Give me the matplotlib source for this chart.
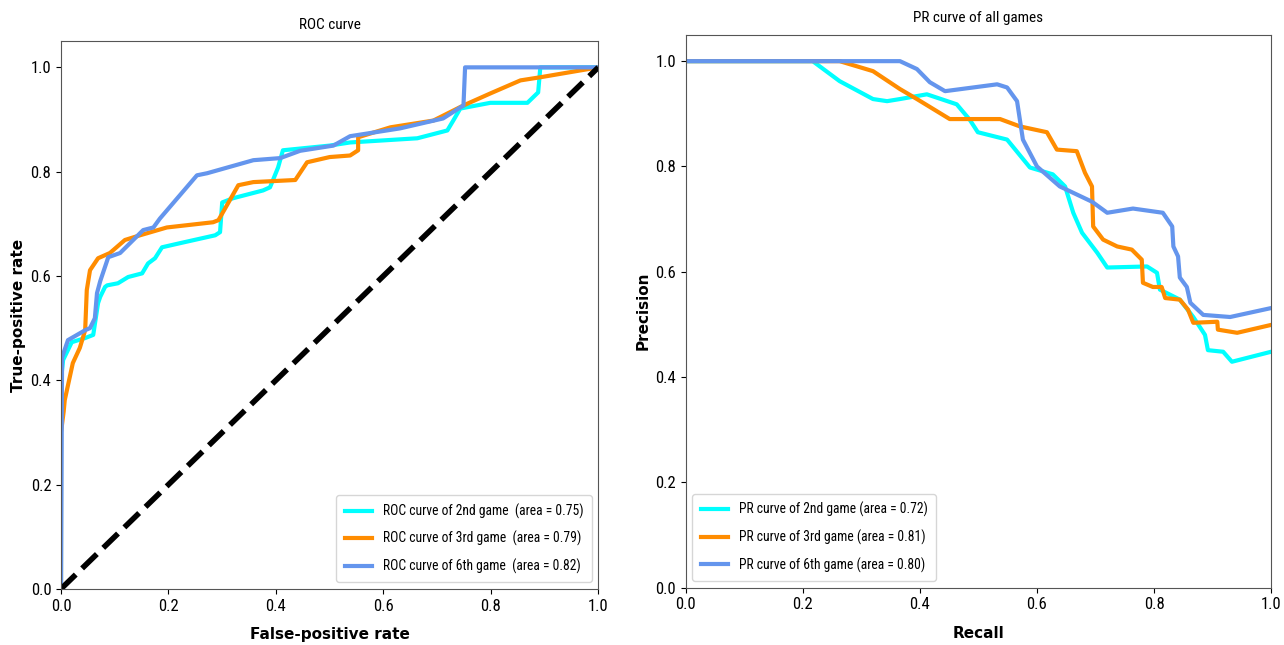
import matplotlib
matplotlib.use("Agg")
import matplotlib.pyplot as plt
from matplotlib import font_manager

names = {f.name for f in font_manager.fontManager.ttflist}
narrow = [n for n in ['Roboto Condensed', 'DejaVu Sans Condensed', 'Liberation Sans Narrow'] if n in names]
plt.rcParams['font.family'] = narrow + ['DejaVu Sans']

# ROC curves (fpr, tpr)
roc2_fpr = [0, 0, 0.002, 0.004, 0.02, 0.045, 0.06, 0.069, 0.073, 0.082, 0.086, 0.106, 0.125, 0.151, 0.162, 0.175,
            0.188, 0.222, 0.287, 0.296, 0.300, 0.320, 0.376, 0.389, 0.404, 0.413, 0.50, 0.538, 0.663, 0.719, 0.730,
            0.743, 0.799, 0.868, 0.888, 0.892, 1.0]
roc2_tpr = [0, 0.40, 0.42, 0.439, 0.473, 0.481, 0.487, 0.548, 0.56, 0.579, 0.582, 0.586, 0.598, 0.605, 0.624, 0.634,
            0.655, 0.663, 0.678, 0.684, 0.741, 0.749, 0.764, 0.770, 0.808, 0.841, 0.85, 0.856, 0.864, 0.879, 0.898,
            0.921, 0.932, 0.932, 0.952, 1.0, 1.0]

roc3_fpr = [0, 0, 0.005, 0.007, 0.022, 0.035, 0.045, 0.048, 0.054, 0.069, 0.091, 0.119, 0.147, 0.197, 0.283, 0.293,
            0.330, 0.358, 0.436, 0.458, 0.50, 0.538, 0.553, 0.553, 0.613, 0.693, 0.749, 0.799, 0.855, 0.892, 1.0]
roc3_tpr = [0, 0.30, 0.34, 0.362, 0.433, 0.462, 0.496, 0.573, 0.611, 0.634, 0.644, 0.669, 0.678, 0.693, 0.703, 0.707,
            0.774, 0.780, 0.784, 0.818, 0.828, 0.831, 0.841, 0.866, 0.885, 0.898, 0.927, 0.950, 0.975, 0.981, 1.0]

roc6_fpr = [0, 0.002, 0.013, 0.045, 0.054, 0.063, 0.067, 0.073, 0.088, 0.11, 0.153, 0.172, 0.184, 0.253, 0.272, 0.358,
            0.408, 0.445, 0.507, 0.538, 0.631, 0.711, 0.749, 0.752, 1.0]
roc6_tpr = [0, 0.444, 0.477, 0.496, 0.50, 0.519, 0.567, 0.59, 0.636, 0.644, 0.688, 0.693, 0.71, 0.793, 0.797, 0.822,
            0.826, 0.84, 0.85, 0.868, 0.883, 0.902, 0.927, 1.0, 1.0]

roc_labels = ["ROC curve of 2nd game  (area = 0.75)", "ROC curve of 3rd game  (area = 0.79)",
              "ROC curve of 6th game  (area = 0.82)"]

# PR curves (recall, precision)
pr2_rec = [0, 0.217, 0.263, 0.32, 0.344, 0.366, 0.412, 0.463, 0.485, 0.499, 0.549, 0.588, 0.627, 0.648, 0.662, 0.677,
           0.703, 0.72, 0.788, 0.805, 0.81, 0.844, 0.867, 0.887, 0.892, 0.918, 0.933, 1.0]
pr2_prec = [1.0, 1.0, 0.962, 0.928, 0.924, 0.928, 0.937, 0.918, 0.889, 0.865, 0.851, 0.798, 0.785, 0.762, 0.712, 0.674,
            0.636, 0.608, 0.61, 0.598, 0.566, 0.547, 0.514, 0.48, 0.451, 0.448, 0.429, 0.448]

pr3_rec = [0, 0.263, 0.32, 0.366, 0.395, 0.451, 0.537, 0.571, 0.617, 0.634, 0.668, 0.682, 0.694, 0.696, 0.713, 0.737,
           0.762, 0.779, 0.781, 0.798, 0.813, 0.819, 0.844, 0.858, 0.867, 0.908, 0.909, 0.942, 1.0]
pr3_prec = [1.0, 1.0, 0.981, 0.947, 0.928, 0.89, 0.89, 0.876, 0.865, 0.832, 0.829, 0.788, 0.762, 0.686, 0.661, 0.648,
            0.642, 0.623, 0.579, 0.571, 0.571, 0.55, 0.547, 0.528, 0.503, 0.505, 0.49, 0.484, 0.499]

pr6_rec = [0, 0.366, 0.395, 0.417, 0.443, 0.532, 0.549, 0.566, 0.576, 0.60, 0.639, 0.694, 0.72, 0.764, 0.815, 0.831,
           0.833, 0.841, 0.844, 0.856, 0.862, 0.884, 0.93, 1.0]
pr6_prec = [1.0, 1.0, 0.985, 0.96, 0.943, 0.956, 0.95, 0.924, 0.851, 0.80, 0.762, 0.733, 0.712, 0.72, 0.712, 0.686,
            0.648, 0.629, 0.589, 0.571, 0.541, 0.518, 0.514, 0.531]

pr_labels = ["PR curve of 2nd game (area = 0.72)", "PR curve of 3rd game (area = 0.81)",
             "PR curve of 6th game (area = 0.80)"]

colors = ["aqua", "darkorange", "cornflowerblue"]

fig = plt.figure(figsize=(12.84, 6.45), dpi=100)
ax1 = fig.add_axes([0.0475, 0.087, 0.4185, 0.849])
ax2 = fig.add_axes([0.534, 0.089, 0.456, 0.857])

bold = dict(fontsize=11, fontweight='bold', family='DejaVu Sans')
lw = 3
for fpr, tpr, c, lab in zip([roc2_fpr, roc3_fpr, roc6_fpr], [roc2_tpr, roc3_tpr, roc6_tpr], colors, roc_labels):
    ax1.plot(fpr, tpr, color=c, lw=lw, label=lab)
ax1.plot([0, 1], [0, 1], 'k--', lw=4)
ax1.set_xlim(0.0, 1.0)
ax1.set_ylim(0.0, 1.05)
ax1.set_xlabel("False-positive rate", labelpad=10, **bold)
ax1.set_ylabel("True-positive rate", labelpad=3, **bold)
ax1.set_title("ROC curve", fontsize=11, pad=9)
ax1.legend(loc="lower right", fontsize=9.8, handlelength=2.0, labelspacing=0.9, borderpad=0.6)

for rec, prec, c, lab in zip([pr2_rec, pr3_rec, pr6_rec], [pr2_prec, pr3_prec, pr6_prec], colors, pr_labels):
    ax2.plot(rec, prec, color=c, lw=lw, label=lab)
ax2.set_xlim(0.0, 1.0)
ax2.set_ylim(0.0, 1.05)
ax2.set_xlabel("Recall", labelpad=10, **bold)
ax2.set_ylabel("Precision", labelpad=3, **bold)
ax2.set_title("PR curve of all games", fontsize=11, pad=9)
ax2.legend(loc="lower left", fontsize=9.8, handlelength=2.0, labelspacing=0.9, borderpad=0.6)

for ax in (ax1, ax2):
    ax.tick_params(labelsize=12)
    for s in ax.spines.values():
        s.set_color('#555555')

fig.savefig("out.png", dpi=100)
